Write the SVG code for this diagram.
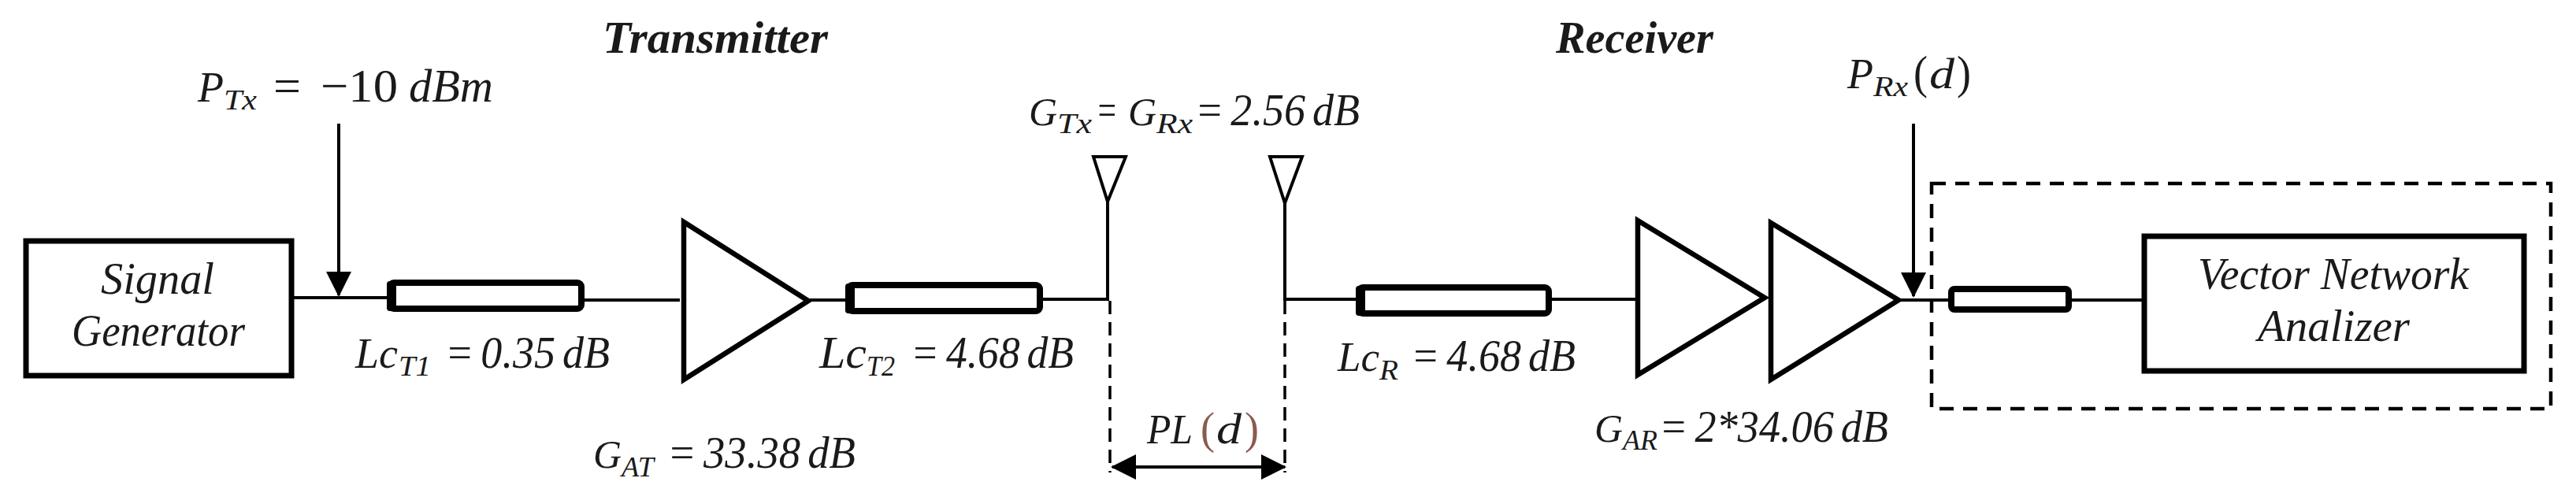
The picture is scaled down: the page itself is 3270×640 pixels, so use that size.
<svg xmlns="http://www.w3.org/2000/svg" width="3270" height="640" viewBox="0 0 3270 640">
<style>
text{font-family:"Liberation Serif","Times New Roman",serif;font-style:italic;fill:#1a1a1a;font-size:58px;word-spacing:-5px}
.h{font-weight:bold;font-size:58px}
.n{font-size:60px}
.s{font-size:36px}
.g{font-size:50px}
.u{font-style:normal}
.box{fill:#fff;stroke:#000;stroke-width:7}
.cable{fill:#fff;stroke:#000;stroke-width:8}
.cap{fill:#000}
.amp{fill:#fff;stroke:#000;stroke-width:6.5;stroke-linejoin:miter}
.ant{fill:#fff;stroke:#000;stroke-width:4}
.w{fill:none;stroke:#000;stroke-width:4}
.dash{fill:none;stroke:#000;stroke-width:3.5;stroke-dasharray:17 10}
.dbox{fill:none;stroke:#000;stroke-width:4.5;stroke-dasharray:18 12}
.p{fill:#8a5a50}
</style>
<defs>
<marker id="ah" markerUnits="userSpaceOnUse" markerWidth="32" markerHeight="32" refX="30" refY="16" orient="auto-start-reverse"><path d="M0 0L32 16L0 32Z" fill="#000"/></marker>
</defs>
<g id="connectors">
<path class="w" d="M373 378H491M742 381H863M1028 381H1073M1324 380H1406V257M1631 258V380H1721M1970 380H2079M2412 381H2473M2630 381H2719"/>
<path class="w" d="M430 157V375" marker-end="url(#ah)"/>
<path class="w" d="M2429 157V376" marker-end="url(#ah)"/>
<path class="dash" d="M1409 382V600M1631 382V600"/>
<path class="w" stroke-width="5" d="M1412 593H1631" marker-start="url(#ah)" marker-end="url(#ah)"/>
</g>
<g id="title-tx"><text class="h" x="765" y="67" textLength="286" lengthAdjust="spacingAndGlyphs">Transmitter</text></g>
<g id="title-rx"><text class="h" x="1975" y="67" textLength="200" lengthAdjust="spacingAndGlyphs">Receiver</text></g>
<g id="signal-generator">
<rect class="box" x="33" y="306" width="337" height="171"/>
<text x="128" y="373" textLength="144" lengthAdjust="spacingAndGlyphs">Signal</text>
<text x="91" y="439" textLength="220" lengthAdjust="spacingAndGlyphs">Generator</text>
</g>
<g id="cable-t1"><rect class="cable" x="495" y="359" width="243" height="33" rx="5"/><rect class="cap" x="491" y="357" width="12" height="38" rx="4"/>
<text y="467"><tspan x="451" textLength="54" lengthAdjust="spacingAndGlyphs" style="font-size:54px">Lc</tspan><tspan class="s" x="506" y="477" textLength="41" lengthAdjust="spacingAndGlyphs">T1</tspan><tspan x="565" y="467" textLength="209" lengthAdjust="spacingAndGlyphs">= 0.35 dB</tspan></text></g>
<g id="amp-t"><polygon class="amp" points="868,282 868,482 1026,382"/>
<text y="594"><tspan class="g" x="753" textLength="36" lengthAdjust="spacingAndGlyphs">G</tspan><tspan class="s" x="789" y="605" textLength="41" lengthAdjust="spacingAndGlyphs">AT</tspan><tspan x="847" y="594" textLength="239" lengthAdjust="spacingAndGlyphs">= 33.38 dB</tspan></text></g>
<g id="cable-t2"><rect class="cable" x="1077" y="362" width="243" height="33" rx="5"/><rect class="cap" x="1073" y="360" width="12" height="38" rx="4"/>
<text y="467"><tspan x="1040" textLength="60" lengthAdjust="spacingAndGlyphs">Lc</tspan><tspan class="s" x="1100" y="477" textLength="36" lengthAdjust="spacingAndGlyphs">T2</tspan><tspan x="1156" y="467" textLength="207" lengthAdjust="spacingAndGlyphs">= 4.68 dB</tspan></text></g>
<g id="antenna-t"><polygon class="ant" points="1388,199 1429,199 1406,256"/></g>
<g id="antenna-r"><polygon class="ant" points="1612,199 1653,199 1631,258"/></g>
<g id="gain-label"><text y="159"><tspan class="g" x="1306" textLength="36" lengthAdjust="spacingAndGlyphs">G</tspan><tspan class="s" x="1342" y="169" textLength="44" lengthAdjust="spacingAndGlyphs">Tx</tspan><tspan x="1391" y="159" textLength="28" lengthAdjust="spacingAndGlyphs">=</tspan><tspan class="g" x="1432" textLength="36" lengthAdjust="spacingAndGlyphs">G</tspan><tspan class="s" x="1468" y="169" textLength="46" lengthAdjust="spacingAndGlyphs">Rx</tspan><tspan x="1517" y="159" textLength="209" lengthAdjust="spacingAndGlyphs">= 2.56 dB</tspan></text></g>
<g id="ptx-label"><text y="129"><tspan class="n" x="251" textLength="33" lengthAdjust="spacingAndGlyphs" style="font-size:54px">P</tspan><tspan class="s" x="284" y="139" textLength="42" lengthAdjust="spacingAndGlyphs">Tx</tspan><tspan class="n u" x="347" y="129" textLength="35" lengthAdjust="spacingAndGlyphs">=</tspan><tspan class="n u" x="407" textLength="98" lengthAdjust="spacingAndGlyphs">−10</tspan><tspan class="n" x="519" textLength="107" lengthAdjust="spacingAndGlyphs">dBm</tspan></text></g>
<g id="pl-label"><text y="563"><tspan x="1456" textLength="58" lengthAdjust="spacingAndGlyphs" style="font-size:52px">PL</tspan><tspan class="p u" x="1524" textLength="18" lengthAdjust="spacingAndGlyphs">(</tspan><tspan x="1544" textLength="32" lengthAdjust="spacingAndGlyphs" style="font-size:54px">d</tspan><tspan class="p u" x="1580" textLength="18" lengthAdjust="spacingAndGlyphs">)</tspan></text></g>
<g id="cable-r"><rect class="cable" x="1725" y="365" width="241" height="33" rx="5"/><rect class="cap" x="1721" y="363" width="12" height="38" rx="4"/>
<text y="471"><tspan x="1698" textLength="53" lengthAdjust="spacingAndGlyphs" style="font-size:53px">Lc</tspan><tspan class="s" x="1751" y="482" textLength="24" lengthAdjust="spacingAndGlyphs">R</tspan><tspan x="1791" y="471" textLength="209" lengthAdjust="spacingAndGlyphs">= 4.68 dB</tspan></text></g>
<g id="amp-r1"><polygon class="amp" points="2079,280 2079,476 2240,378"/></g>
<g id="amp-r2"><polygon class="amp" points="2248,283 2248,482 2410,381" />
<text y="561"><tspan class="g" x="2024" textLength="36" lengthAdjust="spacingAndGlyphs">G</tspan><tspan class="s" x="2060" y="571" textLength="44" lengthAdjust="spacingAndGlyphs">AR</tspan><tspan x="2106" y="561" textLength="291" lengthAdjust="spacingAndGlyphs">= 2*34.06 dB</tspan></text></g>
<g id="prx-label"><text y="112"><tspan class="n" x="2345" textLength="33" lengthAdjust="spacingAndGlyphs" style="font-size:54px">P</tspan><tspan class="s" x="2378" y="122" textLength="44" lengthAdjust="spacingAndGlyphs">Rx</tspan><tspan class="n u" x="2429" y="112" textLength="18" lengthAdjust="spacingAndGlyphs">(</tspan><tspan class="n" x="2449" textLength="32" lengthAdjust="spacingAndGlyphs" style="font-size:54px">d</tspan><tspan class="n u" x="2484" textLength="18" lengthAdjust="spacingAndGlyphs">)</tspan></text></g>
<g id="analyzer-frame"><rect class="dbox" x="2452" y="233" width="786" height="286"/></g>
<g id="cable-a"><rect class="cable" x="2477" y="367" width="149" height="26" rx="4"/></g>
<g id="vector-network-analizer">
<rect class="box" x="2722" y="300" width="482" height="171"/>
<text x="2790" y="367" textLength="344" lengthAdjust="spacingAndGlyphs" style="word-spacing:0">Vector Network</text>
<text x="2866" y="433" textLength="193" lengthAdjust="spacingAndGlyphs">Analizer</text>
</g>
</svg>
